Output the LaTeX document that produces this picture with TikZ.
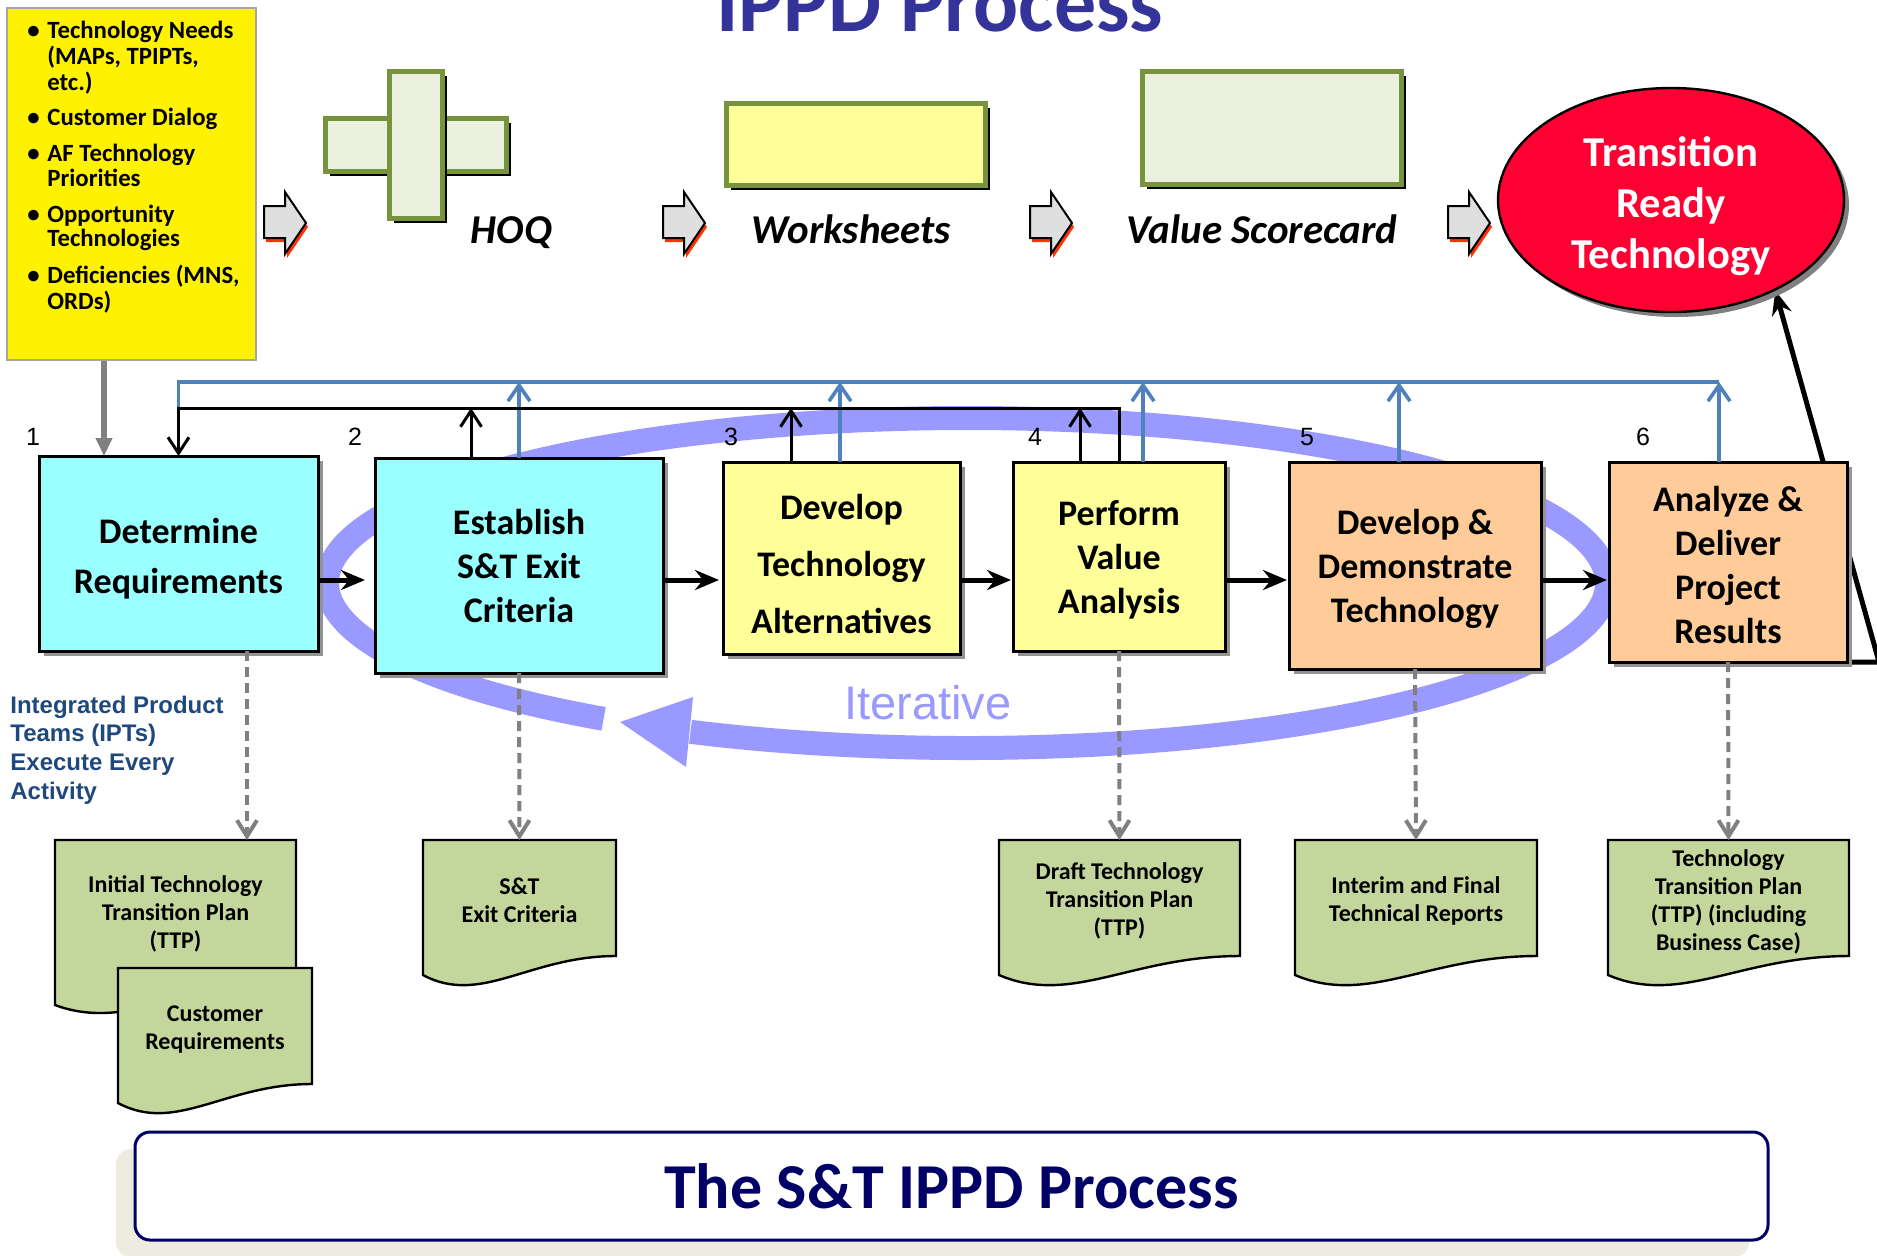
\documentclass[tikz,border=0pt]{standalone}
\usepackage{fontspec}
\setmainfont{Carlito}
\newfontfamily\arialfont{Liberation Sans}
\usepackage{tikz}
\usetikzlibrary{positioning}
\usetikzlibrary{calc}
\usetikzlibrary{shapes.geometric}
\usetikzlibrary{shadows}
\usetikzlibrary{arrows.meta}
\usepackage{xcolor}

\definecolor{stepcyan}{HTML}{99FFFF}
\definecolor{stepyellow}{HTML}{FFFF99}
\definecolor{steporange}{HTML}{FFCC99}
\definecolor{docgreen}{HTML}{C3D69B}
\definecolor{loopblue}{HTML}{9999FF}
\definecolor{linkblue}{HTML}{4F81BD}
\definecolor{olivegreen}{HTML}{77933C}
\definecolor{palegreen}{HTML}{EBF1DE}
\definecolor{navy}{HTML}{000066}
\definecolor{titleblue}{HTML}{333399}
\definecolor{iptblue}{HTML}{1F497D}
\definecolor{goalred}{HTML}{FF0033}
\definecolor{arrowred}{HTML}{FF3300}
\definecolor{bannershade}{HTML}{EEECE1}

\pgfdeclarelayer{back}
\pgfsetlayers{back,main}

% page outline with a wavy lower edge, drawn under node #1
\newcommand\docoutline[2]{
  \begin{pgfonlayer}{back}
    \draw[docline] (#1.north west) -- (#1.north east) -- (#1.south east)
      .. controls ($(#1.south east)!0.45!(#1.south west)$)
      and ($(#1.south west)!0.3!(#1.south east)+(0,50)$)
      .. ($(#1.south west)+(0,#2)$) -- cycle;
  \end{pgfonlayer}
}
% grey block arrow with a red edge
\newcommand\stagearrow[1]{
  \begin{scope}[shift={(#1,0)}]
    \fill[arrowred, shift={(2,4)}] (0,206) -- (21,206) -- (21,192) -- (42,223) -- (21,254) -- (21,238) -- (0,238) -- cycle;
    \filldraw[fill=gray!25, draw=black, line width=1pt] (0,206) -- (21,206) -- (21,192) -- (42,223) -- (21,254) -- (21,238) -- (0,238) -- cycle;
  \end{scope}
}
% taller first line, pushes a block of lines down
\newcommand\firstline[1]{\rule{0pt}{#1}}

\begin{document}
\begin{tikzpicture}[x=0.5pt, y=-0.5pt,
    stepbox/.style={draw=black, line width=1.5pt, inner sep=0pt, outer sep=0pt, align=center,
      font=\fontsize{18}{22}\selectfont\bfseries,
      drop shadow={shadow xshift=2.5pt, shadow yshift=-2.5pt, fill=gray!85, opacity=1}},
    stepno/.style={font=\arialfont\fontsize{12.5}{14}\selectfont},
    toolbox/.style={fill=palegreen, draw=olivegreen, line width=2.5pt, inner sep=0pt, outer sep=0pt,
      drop shadow={shadow xshift=2.5pt, shadow yshift=-2.5pt, fill=black, opacity=1}},
    toolname/.style={anchor=base, font=\fontsize{20.5}{24}\selectfont\bfseries\itshape},
    docnode/.style={inner sep=0pt, outer sep=0pt, align=center, font=\fontsize{12}{14}\selectfont\bfseries},
    docline/.style={fill=docgreen, draw=black, line width=1.2pt},
    flow/.style={line width=2.5pt, -{Stealth[length=12pt, width=10pt, inset=4pt]}},
    feedback/.style={line width=1.5pt},
    upto/.style={feedback, -{Straight Barb[length=8pt, width=10.5pt]}},
    linkline/.style={linkblue, line width=1.8pt},
    linkup/.style={linkline, -{Straight Barb[length=8pt, width=11pt]}},
    output/.style={gray, line width=2pt, dash pattern=on 5pt off 3pt, -{Straight Barb[length=8pt, width=10pt]}}]

  \useasboundingbox (0,0) rectangle (1877,1255);

  % title, partly off the top
  \node[anchor=base, text=titleblue, font=\fontsize{42}{50}\selectfont\bfseries] (title) at (940,31) {IPPD Process};

  % inputs
  \node[fill=yellow, draw=gray!70, line width=0.8pt, minimum width=124.5pt, minimum height=176pt, inner sep=0pt] (needs) at (131.5,184) {};
  \node[anchor=north west, inner sep=0pt, font=\fontsize{12.4}{12.2}\selectfont\bfseries] (needlist) at (27,21) {%
    \begin{tabular}{@{}l@{}l@{}}
      \makebox[10pt][l]{\textbullet} & Technology Needs\\
      & (MAPs, TPIPTs,\\
      & etc.)\\[5.5pt]
      \makebox[10pt][l]{\textbullet} & Customer Dialog\\[5.5pt]
      \makebox[10pt][l]{\textbullet} & AF Technology\\
      & Priorities\\[5.5pt]
      \makebox[10pt][l]{\textbullet} & Opportunity\\
      & Technologies\\[5.5pt]
      \makebox[10pt][l]{\textbullet} & Deficiencies (MNS,\\
      & ORDs)
    \end{tabular}};

  % tools row
  \stagearrow{264}
  \node[toolbox, minimum width=90.5pt, minimum height=26.5pt] (hoqh) at (415.5,144.5) {};
  \node[toolbox, minimum width=26.5pt, minimum height=73.5pt] (hoqv) at (415.5,144.5) {};
  \node[toolname] (hoq) at (511.5,243) {HOQ};
  \stagearrow{663}
  \node[toolbox, fill=stepyellow, minimum width=129.5pt, minimum height=41pt] (sheet) at (855.5,144) {};
  \node[toolname] (sheetname) at (851.5,243) {Worksheets};
  \stagearrow{1030}
  \node[toolbox, minimum width=129.5pt, minimum height=56.5pt] (card) at (1271.5,127.5) {};
  \node[toolname] (cardname) at (1262,243) {Value Scorecard};
  \stagearrow{1448}
  \node[ellipse, fill=goalred, draw=black, line width=1.2pt, minimum width=173pt, minimum height=112pt, inner sep=0pt,
    text=white, align=center, font=\fontsize{21.3}{25.5}\selectfont\bfseries,
    drop shadow={shadow xshift=2.5pt, shadow yshift=-2.5pt, fill=gray, opacity=1}] (rtt) at (1671,200)
    {\firstline{21pt}Transition\\Ready\\Technology};

  % the six steps
  \node[stepbox, fill=stepcyan, minimum width=139.5pt, minimum height=97.5pt, font=\fontsize{18}{25}\selectfont\bfseries] (b1) at (178.5,553.5) {\firstline{17.5pt}Determine\\Requirements};
  \node[stepbox, fill=stepcyan, minimum width=144pt, minimum height=107.5pt] (b2) at (519,565.5) {Establish\\S\&T Exit\\Criteria};
  \node[stepbox, fill=stepyellow, minimum width=118.5pt, minimum height=96pt, font=\fontsize{18}{28.5}\selectfont\bfseries] (b3) at (841.5,558) {\firstline{18.5pt}Develop\\Technology\\Alternatives};
  \node[stepbox, fill=stepyellow, minimum width=106pt, minimum height=94.5pt] (b4) at (1119,556.5) {\firstline{16.2pt}Perform\\Value\\Analysis};
  \node[stepbox, fill=steporange, minimum width=126pt, minimum height=103.5pt] (b5) at (1415,565.5) {\firstline{16.2pt}Develop \&\\Demonstrate\\Technology};
  \node[stepbox, fill=steporange, minimum width=119pt, minimum height=100pt] (b6) at (1728,562) {\firstline{15.6pt}Analyze \&\\Deliver\\Project\\Results};
  \foreach \n/\x in {1/33, 2/355, 3/731, 4/1035, 5/1307, 6/1643}
    \node[stepno] (n\n) at (\x,437) {\n};

  % iterative loop behind the steps
  \begin{pgfonlayer}{back}
    \coordinate (loopc) at (967,583);
    \draw[loopblue, line width=12pt] ([shift={(-124.6:320pt and 82.5pt)}]loopc)
      arc[start angle=-124.6, end angle=-475.6, x radius=320pt, y radius=82.5pt];
    \fill[loopblue] (620,722) -- (693,697) -- (686,767) -- cycle;
    \draw[line width=2.5pt, -{Stealth[length=12pt, width=10pt, inset=4pt]}] (b6.south east) -- ++(32,0) -- (rtt.-41);
  \end{pgfonlayer}
  \node[text=loopblue, font=\arialfont\fontsize{23.5}{28}\selectfont] (iter) at (928,703) {Iterative};
  \node[anchor=west, align=left, inner sep=0pt, text=iptblue, font=\fontsize{12}{14.4}\arialfont\bfseries] (ipt) at (10,750)
    {Integrated Product\\Teams (IPTs)\\Execute Every\\Activity};

  % forward flow
  \coordinate (fl) at (0,580);
  \draw[flow, shorten >=5pt] (b1.east |- fl) -- (b2.west |- fl);
  \draw[flow, shorten >=2pt] (b2.east |- fl) -- (b3.west |- fl);
  \draw[flow, shorten >=1pt] (b3.east |- fl) -- (b4.west |- fl);
  \draw[flow, shorten >=1pt] (b4.east |- fl) -- (b5.west |- fl);
  \draw[flow, shorten >=1pt] (b5.east |- fl) -- (b6.west |- fl);

  % blue links above the steps
  \coordinate (fb) at (0,408);
  \coordinate (lk) at (0,382);
  \draw[linkline] (b1.north |- fb) -- (b1.north |- lk) -- (1719,382);
  \foreach \x/\b in {519/b2, 840/b3, 1143/b4, 1399/b5, 1719/b6}
    \draw[linkup] (\x,382 |- \b.north) -- (\x,382);

  % black feedback to step 1
  \draw[feedback, -{Straight Barb[length=8pt, width=10.5pt]}] (b4.north) -- (b4.north |- fb) -- (b1.north |- fb) -- (b1.north);
  \foreach \x/\b in {471/b2, 791/b3, 1080/b4}
    \draw[upto] (\x,408 |- \b.north) -- (\x,408);
  \coordinate (in1) at (104,0);
  \draw[gray, line width=2.8pt, -{Triangle[length=9pt, width=8pt]}] (needs.south -| in1) -- (b1.north -| in1);

  % products
  \node[docnode, minimum width=120.5pt, minimum height=71pt] (ttp0) at (175.5,911) {\firstline{11.5pt}Initial Technology\\Transition Plan\\(TTP)};
  \docoutline{ttp0}{23}
  \node[docnode, minimum width=97pt, minimum height=58pt] (custreq) at (215,1026) {\firstline{11.5pt}Customer\\Requirements};
  \docoutline{custreq}{19}
  \node[docnode, minimum width=96.5pt, minimum height=58pt] (exitcrit) at (519.5,898) {\firstline{11pt}S\&T\\Exit Criteria};
  \docoutline{exitcrit}{19}
  \node[docnode, minimum width=120.5pt, minimum height=58pt] (ttp1) at (1119.5,898) {\firstline{11.5pt}Draft Technology\\Transition Plan\\(TTP)};
  \docoutline{ttp1}{19}
  \node[docnode, minimum width=121pt, minimum height=58pt] (reports) at (1416,898) {\firstline{11.5pt}Interim and Final\\Technical Reports};
  \docoutline{reports}{19}
  \node[docnode, minimum width=120.5pt, minimum height=58pt] (ttp2) at (1728.5,898) {\firstline{12pt}Technology\\Transition Plan\\(TTP) (including\\Business Case)};
  \docoutline{ttp2}{19}

  \coordinate (o1) at (247,0);
  \draw[output] (b1.south -| o1) -- (ttp0.north -| o1);
  \draw[output] (b2.south) -- (exitcrit.north);
  \draw[output] (b4.south) -- (ttp1.north);
  \draw[output] (b5.south) -- (reports.north);
  \draw[output] (b6.south) -- (ttp2.north);

  % caption banner
  \node[draw=navy, line width=1.5pt, fill=white, rounded corners=7.5pt, minimum width=816.5pt, minimum height=54pt,
    text=navy, font=\fontsize{32}{38}\selectfont\bfseries,
    drop shadow={shadow xshift=-9.5pt, shadow yshift=-8.5pt, fill=bannershade, opacity=1}] (banner) at (951.5,1186) {The S\&T IPPD Process};
\end{tikzpicture}
\end{document}
